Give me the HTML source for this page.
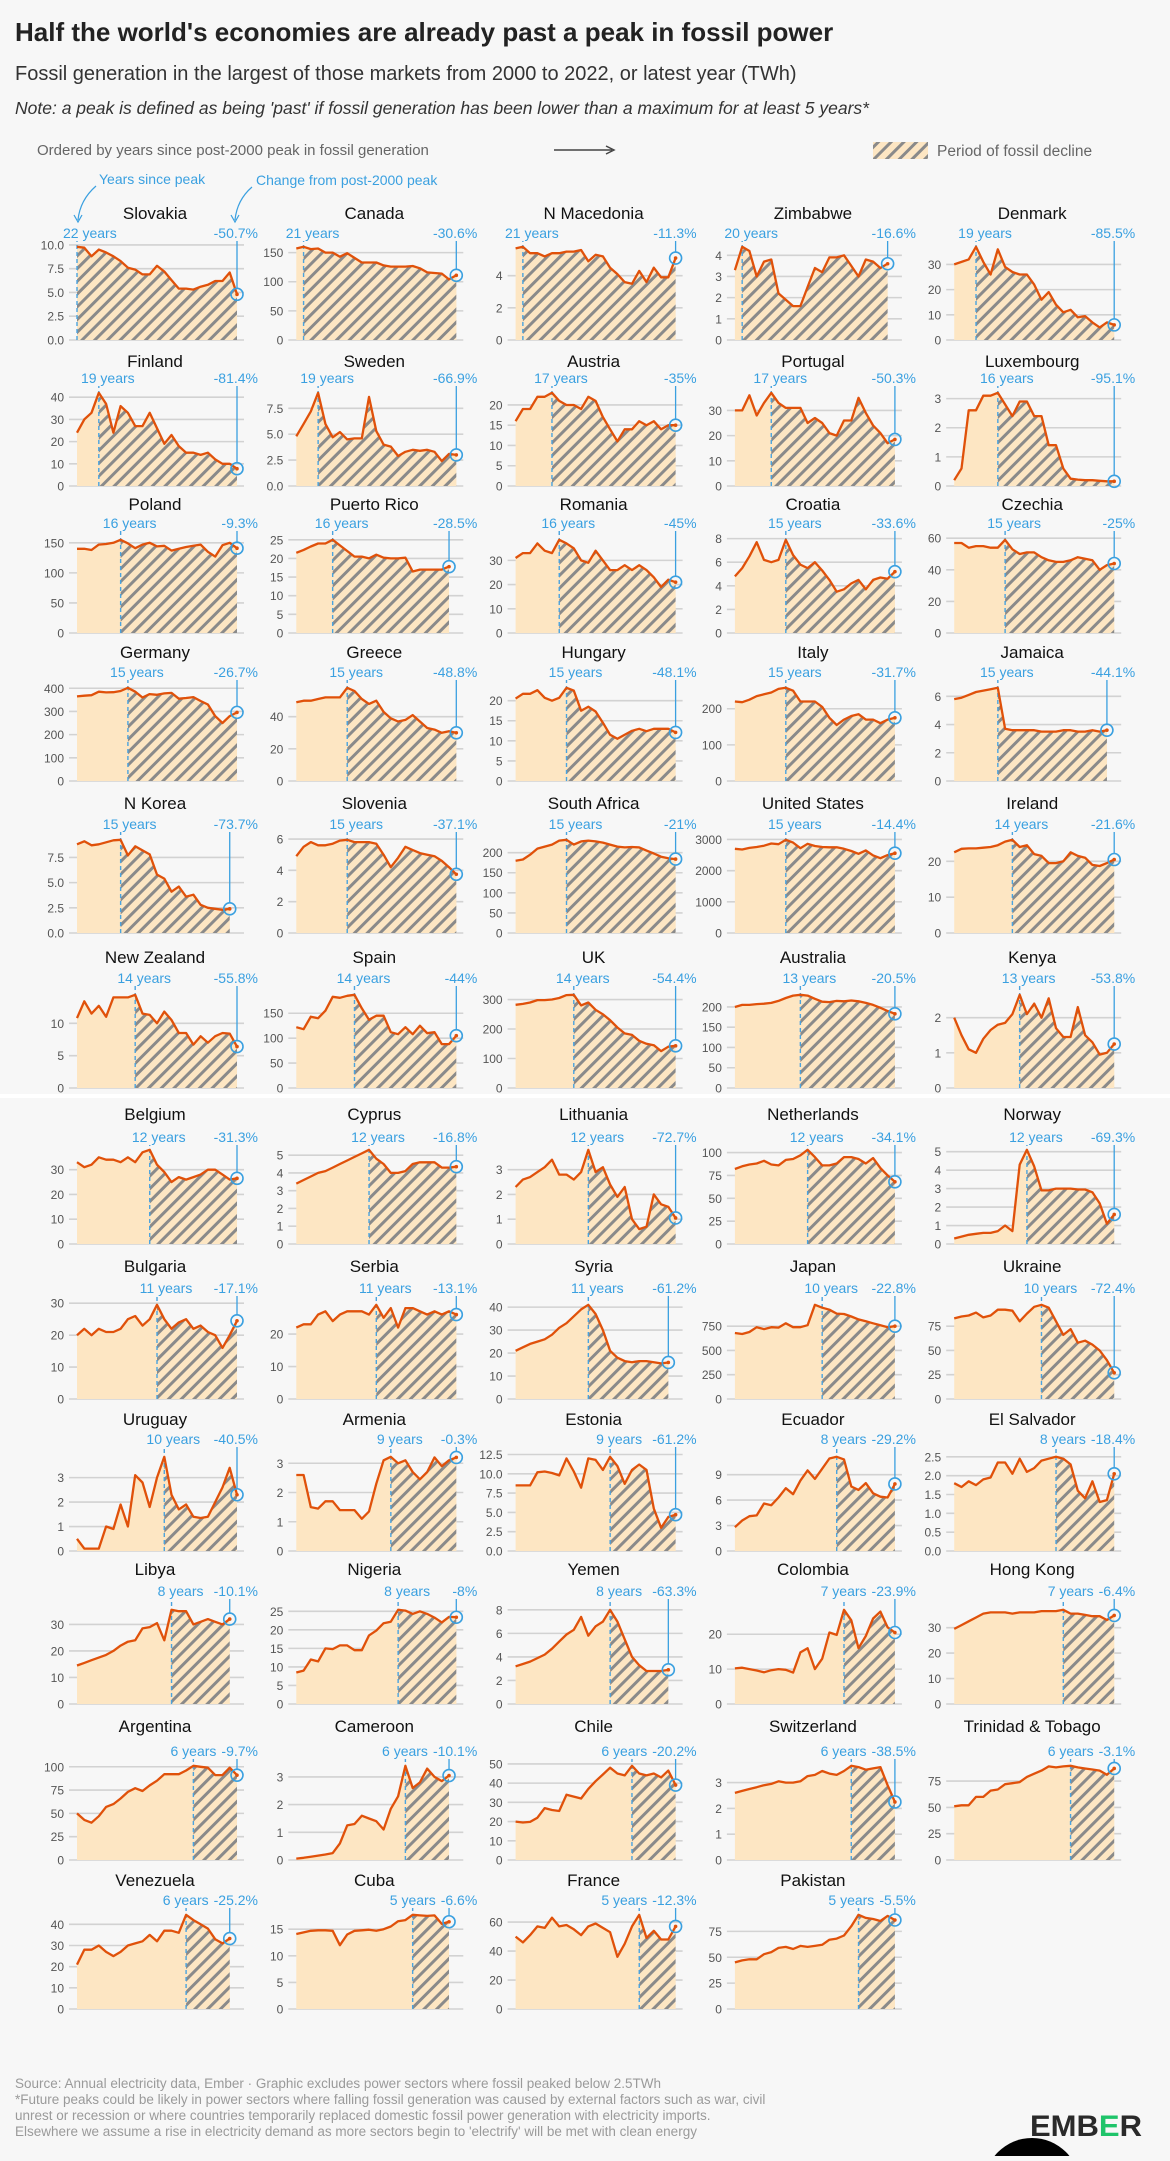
<!DOCTYPE html>
<html><head><meta charset="utf-8">
<style>
html,body{margin:0;padding:0;background:#f7f7f7;}
body{width:1170px;height:2156px;position:relative;overflow:hidden;font-family:"Liberation Sans",sans-serif;}
svg text{font-family:"Liberation Sans",sans-serif;}
</style></head>
<body>
<svg id="s" width="1170" height="2156" xmlns="http://www.w3.org/2000/svg">
<defs>
<pattern id="h" width="9" height="9" patternUnits="userSpaceOnUse" patternTransform="rotate(45)">
<rect width="9" height="9" fill="#fde6c3"/>
<line x1="1.5" y1="0" x2="1.5" y2="9" stroke="#8a8a8a" stroke-width="3"/>
</pattern>
</defs>
<rect width="1170" height="2156" fill="#f7f7f7"/>
<rect x="0" y="1094" width="1170" height="4" fill="#ffffff"/>
<text x="15" y="41" font-size="26" font-weight="bold" fill="#222">Half the world's economies are already past a peak in fossil power</text>
<text x="15" y="80" font-size="20" fill="#333">Fossil generation in the largest of those markets from 2000 to 2022, or latest year (TWh)</text>
<text x="15" y="114" font-size="17.5" font-style="italic" fill="#333">Note: a peak is defined as being 'past' if fossil generation has been lower than a maximum for at least 5 years*</text>
<text x="37" y="155" font-size="15" fill="#666">Ordered by years since post-2000 peak in fossil generation</text>
<line x1="554" y1="150" x2="612" y2="150" stroke="#444" stroke-width="1.5"/>
<path d="M606 146 L614 150 L606 154" fill="none" stroke="#444" stroke-width="1.5"/>
<rect x="873" y="142" width="55" height="17" fill="url(#h)"/>
<text x="937" y="156" font-size="15.5" fill="#666">Period of fossil decline</text>
<text x="99" y="184" font-size="14" fill="#3aa0e0">Years since peak</text>
<text x="256" y="185" font-size="14" fill="#3aa0e0">Change from post-2000 peak</text>
<path d="M96 186 Q80 200 78 220" fill="none" stroke="#3aa0e0" stroke-width="1.2"/>
<path d="M74 215 L78 222 L82 215" fill="none" stroke="#3aa0e0" stroke-width="1.2"/>
<path d="M252 187 Q237 200 235 220" fill="none" stroke="#3aa0e0" stroke-width="1.2"/>
<path d="M231 215 L235 222 L239 215" fill="none" stroke="#3aa0e0" stroke-width="1.2"/>
<g id="charts"></g>
<text x="15" y="2088" font-size="13.5" fill="#9a9a9a">Source: Annual electricity data, Ember · Graphic excludes power sectors where fossil peaked below 2.5TWh</text>
<text x="15" y="2104" font-size="13.5" fill="#9a9a9a">*Future peaks could be likely in power sectors where falling fossil generation was caused by external factors such as war, civil</text>
<text x="15" y="2120" font-size="13.5" fill="#9a9a9a">unrest or recession or where countries temporarily replaced domestic fossil power generation with electricity imports.</text>
<text x="15" y="2136" font-size="13.5" fill="#9a9a9a">Elsewhere we assume a rise in electricity demand as more sectors begin to 'electrify' will be met with clean energy</text>
<text x="1030" y="2136" font-size="30" font-weight="bold" fill="#2a2a2a" textLength="112" lengthAdjust="spacingAndGlyphs">EMB<tspan fill="#1fc46a">E</tspan>R</text>
<circle cx="1032" cy="2186" r="48" fill="#000"/>
</svg>
<script>
var C=[
["Slovakia",22,"-50.7%",2.5,[9.8,9.7,8.8,9.5,9.2,8.8,8.3,7.6,7.4,6.9,6.9,7.8,7.2,6.3,5.4,5.4,5.3,5.6,5.8,6.2,6.2,7.1,4.8]],
["Canada",21,"-30.6%",50,[157,160,156,157,150,150,143,149,141,133,133,133,128,126,126,126,127,123,116,115,114,104,111]],
["N Macedonia",21,"-11.3%",2,[5.7,5.8,5.4,5.4,5.2,5.4,5.4,5.5,5.5,5.6,4.9,5.3,5.2,4.5,4.1,3.6,3.5,4.3,3.6,4.5,3.9,3.9,5.1]],
["Zimbabwe",20,"-16.6%",1,[3.3,4.4,4.2,3.0,3.7,3.8,2.2,1.9,1.6,1.6,2.5,3.4,3.2,3.9,3.9,4.0,3.5,3.0,3.8,3.7,3.4,3.6]],
["Denmark",19,"-85.5%",10,[30,31,32,37,31,26,36,29,27,26,26,22,16,19,14,11,12,9,9.5,7,5,7,6]],
["Finland",19,"-81.4%",10,[24,30,33,42,37,24,36,33,27,27,33,26,19,23,18,15,15,14,15,12,10,10,7.8]],
["Sweden",19,"-66.9%",2.5,[4.8,6.0,7.2,9.0,6.0,4.7,5.2,4.5,4.6,4.6,8.6,5.3,4.0,3.8,2.9,3.3,3.5,3.4,3.5,3.3,2.4,3.1,3.0]],
["Austria",17,"-35%",5,[16,19,19,22,22,23,21,20,20,19,22,21,17,14,11,14,14,16,15,16,14,15,15]],
["Portugal",17,"-50.3%",10,[30,30,36,28,33,37,33,31,31,31,25,27,25,21,20,26,26,35,29,24,21,17,18.5]],
["Luxembourg",16,"-95.1%",1,[0.2,0.6,2.6,2.6,3.1,3.1,3.2,2.8,2.4,2.9,2.9,2.4,2.4,1.4,1.4,0.6,0.25,0.22,0.2,0.2,0.18,0.16,0.16]],
["Poland",16,"-9.3%",50,[140,140,138,147,148,150,155,149,141,147,150,144,145,137,140,143,145,147,135,127,146,150,141]],
["Puerto Rico",16,"-28.5%",5,[21.5,22.3,23.2,24,24,25,23.5,22,20.5,20.5,20,21,20.2,20,20,20.2,16.5,17,17,17,17,17.8]],
["Romania",16,"-45%",10,[31,33,33,37,34,33,38.5,37,35,30,29,34,30,26,26,28,26,28,26,23,19,22,21]],
["Croatia",15,"-33.6%",2,[4.8,5.5,6.5,7.7,6.2,6.0,6.2,7.9,6.6,5.8,5.5,6.0,5.3,4.5,3.5,3.7,4.2,4.5,3.7,4.5,4.7,4.6,5.2]],
["Czechia",15,"-25%",20,[57,57,54,55,55,54,54,59,53,50,51,51,48,46,45,45,46,48,47,46,40,43,44]],
["Germany",15,"-26.7%",100,[365,368,370,385,382,383,388,402,385,360,375,372,378,380,355,358,362,345,330,280,250,280,296]],
["Greece",15,"-48.8%",20,[49,50,50,51,52,52,52,58,56,51,48,50,43,39,37,38,41,37,33,32,30,31,30]],
["Hungary",15,"-48.1%",5,[20.5,21.7,21.7,22.6,20.7,20.0,20.7,23.2,22.5,17.5,18.5,17.3,14.5,11.5,10.5,11.5,12.5,13,12.4,13,13,13,12.1]],
["Italy",15,"-31.7%",100,[220,218,225,235,240,245,255,258,250,220,220,220,205,175,155,170,180,185,170,170,160,170,175]],
["Jamaica",15,"-44.1%",2,[5.8,5.9,6.1,6.3,6.4,6.5,6.6,3.7,3.6,3.6,3.6,3.6,3.5,3.5,3.5,3.6,3.6,3.5,3.5,3.6,3.5,3.6]],
["N Korea",15,"-73.7%",2.5,[8.8,9.1,8.7,8.8,9.0,9.2,9.25,7.7,8.6,8.2,7.8,5.8,5.4,4.1,4.6,3.6,3.8,2.8,2.5,2.4,2.3,2.4]],
["Slovenia",15,"-37.1%",2,[4.9,5.5,5.8,5.6,5.6,5.7,5.9,5.95,5.8,5.8,5.8,5.7,5.0,4.2,4.8,5.5,5.3,5.1,5.0,4.9,4.6,4.2,3.75]],
["South Africa",15,"-21%",50,[180,183,195,210,215,220,230,232,220,228,230,228,225,220,215,213,214,213,205,198,190,186,184]],
["United States",15,"-14.4%",1000,[2700,2680,2730,2760,2800,2870,2850,2990,2900,2720,2860,2790,2760,2750,2750,2700,2630,2540,2650,2490,2400,2500,2560]],
["Ireland",14,"-21.6%",10,[22.5,23.5,23.6,23.6,23.8,24,24.5,25.5,26,24,24.5,22,21.5,19.5,19.5,20,22.5,21.5,21,19,18.7,19.5,20.5]],
["New Zealand",14,"-55.8%",5,[10.8,13.4,11.5,12.7,11,14,14,14,14.4,11.5,11.3,10,11.8,10.5,8.5,8.5,6.7,8,7,8,8.5,8.4,6.4]],
["Spain",14,"-44%",50,[122,118,143,140,155,183,181,185,187,160,137,145,145,112,108,122,108,125,110,112,88,88,105]],
["UK",14,"-54.4%",100,[282,285,290,298,298,300,305,315,316,280,290,265,250,230,205,185,180,160,150,145,125,140,143]],
["Australia",13,"-20.5%",50,[200,205,205,207,208,210,215,222,228,230,228,220,213,212,215,214,216,214,210,205,198,190,183]],
["Kenya",13,"-53.8%",1,[2.0,1.5,1.1,1.0,1.4,1.65,1.8,1.85,2.1,2.65,2.1,2.4,2.0,2.55,1.7,1.45,1.45,2.3,1.5,1.3,0.95,1.0,1.25]],
["Belgium",12,"-31.3%",10,[33,31,32,35,34,34,33,35,33,37,38,32,29,25,27,26,27,28,30,30,28,26,26.5]],
["Cyprus",12,"-16.8%",1,[3.4,3.6,3.8,4.0,4.1,4.3,4.5,4.7,4.9,5.1,5.3,4.8,4.5,4.0,4.0,4.1,4.5,4.6,4.6,4.6,4.3,4.3,4.35]],
["Lithuania",12,"-72.7%",1,[2.3,2.6,2.7,2.9,3.1,3.4,2.8,2.8,2.6,2.9,3.8,2.9,3.1,2.4,1.9,2.3,1.0,0.6,0.7,2.0,1.6,1.5,1.05]],
["Netherlands",12,"-34.1%",25,[82,85,87,88,91,87,86,92,93,97,103,95,86,86,88,95,95,93,88,94,83,75,68]],
["Norway",12,"-69.3%",1,[0.3,0.4,0.5,0.55,0.6,0.6,0.7,1.0,0.7,4.3,5.1,4.2,2.9,2.9,3.0,3.0,3.0,2.95,2.95,2.8,2.2,1.1,1.6]],
["Bulgaria",11,"-17.1%",10,[20,22,20,22,21,21,22,25,26,23,25,29.5,25,22,24,25,22,23,21,20,16,20,24.5]],
["Serbia",11,"-13.1%",10,[22,23,23,26,27,24,26,27,27,27,26,29,25,28,22,28,28,27,26,27,26,27,26]],
["Syria",11,"-61.2%",10,[21,22.5,24,25,26,28,31,33,36,39,41,37,30,21,18,16.5,16,16.5,16.5,16,15.5,15.9]],
["Japan",10,"-22.8%",250,[680,670,690,740,720,740,735,780,740,740,760,970,940,920,880,875,850,820,800,780,760,740,750]],
["Ukraine",10,"-72.4%",25,[83,85,86,89,84,86,92,92,91,80,88,95,97,94,80,66,72,58,60,56,50,40,27]],
["Uruguay",10,"-40.5%",1,[0.5,0.1,0.1,0.1,1.0,0.9,1.9,1.0,3.1,2.8,1.8,3.0,3.85,2.3,1.7,1.9,1.4,1.35,1.4,2.0,2.6,3.4,2.3]],
["Armenia",9,"-0.3%",1,[2.6,2.6,1.5,1.45,1.7,1.7,1.4,1.4,1.4,1.1,1.35,2.3,3.1,3.22,3.0,3.1,2.7,2.45,2.7,3.2,2.9,3.1,3.2]],
["Estonia",9,"-61.2%",2.5,[8.5,8.5,8.5,10.2,10.3,10.1,9.8,12,10.3,8.2,12,11.8,10.5,12.2,11,8.7,10.5,11.2,10.5,5.5,3,4.4,4.7]],
["Ecuador",8,"-29.2%",3,[2.8,3.6,4.1,4.2,5.6,5.4,6.3,7.4,6.7,8.3,9.5,8.5,9.7,10.9,11.1,10.8,7.6,7.2,8.0,6.8,6.4,6.3,7.9]],
["El Salvador",8,"-18.4%",0.5,[1.8,1.7,1.85,1.75,1.9,1.95,2.35,2.35,2.05,2.45,2.1,2.2,2.4,2.45,2.5,2.45,2.3,1.6,1.4,1.85,1.3,1.35,2.05]],
["Libya",8,"-10.1%",10,[14.5,15.5,16.5,17.5,18.5,20,22,23.5,24,28.5,29,30.5,24,35.5,35,35,30,31,32,31,30,32]],
["Nigeria",8,"-8%",5,[8.5,9,12,11.5,15,14.8,15.8,15.8,14.5,14.5,18.5,19.8,21.8,22.2,25.4,25.2,24.3,25,24.3,23.3,22,23.5,23.4]],
["Yemen",8,"-63.3%",2,[3.2,3.4,3.6,3.9,4.2,4.7,5.3,5.9,6.3,7.4,5.8,6.6,7.0,8.0,7.0,5.5,4.0,3.3,2.8,2.8,2.8,2.9]],
["Colombia",7,"-23.9%",10,[10.2,10.4,10,9.6,9.1,9.7,10,9.8,9,14.8,16,10,13,20.5,19.8,27,24,16,19.5,24.5,26.5,22,20.5]],
["Hong Kong",7,"-6.4%",10,[29.5,31,32.5,34,35.5,36,36,36,35.5,36,36,36,36.5,36.5,36.5,37,35.5,35.5,35,34.5,34.5,33,34.8]],
["Argentina",6,"-9.7%",25,[50,43,40,47,57,60,66,73,77,74,80,85,92,92,92,96,101,100,99,91,91,99,91]],
["Cameroon",6,"-10.1%",1,[0.05,0.08,0.12,0.16,0.2,0.25,0.6,1.25,1.3,1.6,1.5,1.4,1.1,1.85,2.3,3.4,2.6,2.8,3.3,3.0,2.85,3.05]],
["Chile",6,"-20.2%",10,[20,19.5,19.8,22,27,26,25.5,34,33,32,37,41,44.5,48,45,44,49,45,44,45,43,46.5,39]],
["Switzerland",6,"-38.5%",1,[2.6,2.68,2.75,2.82,2.9,2.95,3.05,3.0,3.0,3.05,3.25,3.3,3.45,3.35,3.3,3.45,3.65,3.6,3.5,3.55,3.6,2.9,2.25]],
["Trinidad & Tobago",6,"-3.1%",25,[51,52,52,60,60,66,67,72,73,74,79,82,85,89,88,89,89.5,88,87,86,85,81,87]],
["Venezuela",6,"-25.2%",10,[21,28,28,30,27,25,27,30,31,32,35,32,37,37,36,44.5,42,40,38,33,31,33.3]],
["Cuba",5,"-6.6%",5,[14.1,14.4,14.7,14.8,14.8,14.7,12.0,14.0,14.7,14.8,14.9,14.7,15,15.5,16.5,16.7,17.7,17.6,17.5,17.6,16.0,16.4]],
["France",5,"-12.3%",20,[50,46,51,57,56,63,57,58,55,51,57,59,56,53,36,45,57,65,49,54,48,48,57]],
["Pakistan",5,"-5.5%",25,[45,47,48,48,53,55,59,60,58,61,60,61,62,67,68,71,80,91,88,87,85,90,86]]
];
var RB=[340,486,633,781,933,1088,1244,1399,1551,1704,1860,2009];
var RT=[213,361,504,652,803,957,1114,1266,1419,1569,1726,1880];
var RY=[233,378,523,672,824,978,1137,1288,1439,1591,1751,1900];
var NS="http://www.w3.org/2000/svg",G=document.getElementById("charts");
function el(t,a,p){var e=document.createElementNS(NS,t);for(var k in a)e.setAttribute(k,a[k]);(p||G).appendChild(e);return e;}
var DX=160/22;
C.forEach(function(c,i){
 var r=Math.floor(i/5),col=i%5;
 var L=77+col*219.3,B=RB[r],H=r<6?96:97,TY=RT[r],YY=RY[r];
 var d=c[4],n=d.length,last=n-1,pk=last-c[1];
 var mx=Math.max.apply(null,d)*1.03;
 var ys=function(v){return B-v/mx*H;},xs=function(k){return L+k*DX;};
 var step=c[3],dec=(step%1)!==0;
 for(var t=0;t<=mx+1e-9;t+=step){
  var y=ys(t);
  el("line",{x1:L-8,x2:L+167,y1:y,y2:y,stroke:"#d2d2d2","stroke-width":1.6});
  var tx=el("text",{x:L-13,y:y+4.5,"font-size":12,fill:"#555","text-anchor":"end"});
  tx.textContent=dec?t.toFixed(1):String(Math.round(t));
 }
 var pts=d.map(function(v,k){return xs(k).toFixed(1)+","+ys(v).toFixed(1);});
 var area="M"+xs(0)+","+B+" L"+pts.join(" L")+" L"+xs(last)+","+B+" Z";
 el("path",{d:area,fill:"#fde6c3"});
 var cid="c"+i;
 var cp=el("clipPath",{id:cid});
 el("rect",{x:xs(pk),y:B-H-20,width:xs(last)-xs(pk)+1,height:H+20},cp);
 el("path",{d:area,fill:"url(#h)","clip-path":"url(#"+cid+")"});
 el("line",{x1:xs(pk),x2:xs(pk),y1:B,y2:YY+8,stroke:"#4aa3df","stroke-width":1.4,"stroke-dasharray":"4,3"});
 el("path",{d:"M"+pts.join(" L"),fill:"none",stroke:"#e0510a","stroke-width":2.3,"stroke-linejoin":"round"});
 var ex=xs(last),ey=ys(d[last]);
 el("line",{x1:ex,x2:ex,y1:YY+8,y2:ey-6,stroke:"#3aa0e0","stroke-width":1.3});
 el("circle",{cx:ex,cy:ey,r:6,fill:"none",stroke:"#3aa0e0","stroke-width":1.6});
 el("circle",{cx:ex,cy:ey,r:1.8,fill:"#e0510a"});
 var ti=el("text",{x:L+78,y:TY+6,"font-size":17,fill:"#111","text-anchor":"middle"});ti.textContent=c[0];
 var pr=L+181;
 var pt=el("text",{x:pr,y:YY+5,"font-size":14,fill:"#3aa0e0","text-anchor":"end"});pt.textContent=c[2];
 var pw=pt.getComputedTextLength?pt.getComputedTextLength():c[2].length*8;
 var yt=el("text",{x:0,y:YY+5,"font-size":14,fill:"#3aa0e0","text-anchor":"middle"});yt.textContent=c[1]+" years";
 var yw=yt.getComputedTextLength?yt.getComputedTextLength():56;
 var cx=xs(pk)+9;
 cx=Math.max(cx,L-14+yw/2);
 cx=Math.min(cx,pr-pw-5-yw/2);
 yt.setAttribute("x",cx);
});
</script>
</body></html>
